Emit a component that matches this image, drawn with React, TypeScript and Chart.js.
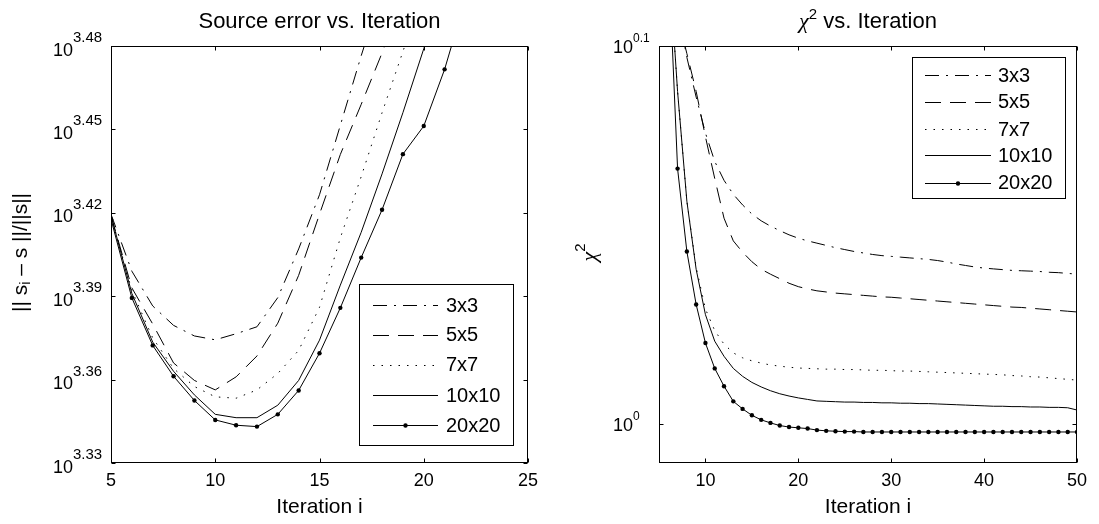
import React, { useEffect, useRef } from 'react';
import { Chart, registerables } from 'chart.js';

Chart.register(...registerables);

const SANS = "'Liberation Sans', Arial, Helvetica, sans-serif";
const SERIF = "'Liberation Serif', 'DejaVu Serif', serif";

const seriesLabels = ['3x3', '5x5', '7x7', '10x10', '20x20'];

// ---------- Left panel: source error vs. iteration (log y axis) ----------
const sourceIterations = [5, 6, 7, 8, 9, 10, 11, 12, 13, 14, 15, 16, 17, 18, 19, 20, 21, 22];
const source3x3 = [2627.2, 2506.1, 2435.0, 2396.1, 2375.2, 2367.6, 2379.6, 2393.3, 2451.9, 2552.7, 2669.9, 2828.1, 2995.7, 3162.3];
const source5x5 = [2624.2, 2471.7, 2398.8, 2322.7, 2289.3, 2271.4, 2296.1, 2336.1, 2400.5, 2497.5, 2627.2, 2760.6, 2877.4, 3002.6, 3140.5];
const source7x7 = [2624.2, 2466.1, 2371.4, 2312.1, 2277.7, 2258.4, 2255.8, 2271.4, 2302.5, 2346.9, 2432.2, 2576.3, 2710.2, 2857.6, 3006.1, 3162.3];
const source10x10 = [2624.2, 2460.4, 2363.2, 2306.7, 2262.0, 2225.9, 2219.7, 2219.7, 2242.8, 2289.3, 2367.0, 2477.4, 2588.2, 2716.4, 2857.6, 3013.0, 3176.9];
const source20x20 = [2616.4, 2451.3, 2356.7, 2297.2, 2251.6, 2215.6, 2205.9, 2203.4, 2225.9, 2270.4, 2341.5, 2431.1, 2534.5, 2636.9, 2761.2, 2826.2, 2962.1, 3140.5];
const sourceXTicks = [5, 10, 15, 20, 25];
const sourceYTickExps = ['3.33', '3.36', '3.39', '3.42', '3.45', '3.48'];

// ---------- Right panel: chi^2 vs. iteration (log y axis) ----------
const chiIterations = [5, 6, 7, 8, 9, 10, 11, 12, 13, 14, 15, 16, 17, 18, 19, 20, 21, 22, 23, 24, 25, 26, 27, 28, 29, 30, 31, 32, 33, 34, 35, 36, 37, 38, 39, 40, 41, 42, 43, 44, 45, 46, 47, 48, 49, 50];
const chi3x3 = [1.58489, 1.36458, 1.28825, 1.25026, 1.2204, 1.19399, 1.17355, 1.16011, 1.15027, 1.14288, 1.13658, 1.13188, 1.12824, 1.12513, 1.12228, 1.11996, 1.11815, 1.11661, 1.11507, 1.11353, 1.11225, 1.11097, 1.10995, 1.10893, 1.10816, 1.10765, 1.10714, 1.10663, 1.10612, 1.10561, 1.10484, 1.10383, 1.10256, 1.10154, 1.10053, 1.09977, 1.09926, 1.09876, 1.09825, 1.098, 1.09775, 1.0975, 1.09699, 1.09674, 1.09624, 1.09573];
const chi5x5 = [1.58489, 1.36458, 1.28233, 1.25314, 1.22462, 1.19124, 1.16145, 1.1337, 1.11815, 1.11045, 1.10408, 1.09901, 1.09572, 1.0927, 1.08968, 1.08743, 1.08593, 1.08468, 1.08393, 1.08318, 1.08268, 1.08218, 1.08168, 1.08119, 1.08069, 1.08044, 1.07994, 1.07945, 1.07895, 1.07846, 1.07796, 1.07746, 1.07697, 1.07647, 1.07598, 1.07548, 1.07499, 1.0745, 1.074, 1.07376, 1.07326, 1.07277, 1.07228, 1.07178, 1.07129, 1.0708];
const chi7x7 = [1.6596, 1.3335, 1.22462, 1.14551, 1.10027, 1.07275, 1.05877, 1.05003, 1.04448, 1.04136, 1.03944, 1.03801, 1.03681, 1.0361, 1.03538, 1.0349, 1.03467, 1.03443, 1.03419, 1.03419, 1.03395, 1.03395, 1.03371, 1.03348, 1.03348, 1.03324, 1.033, 1.033, 1.03276, 1.03253, 1.03229, 1.03205, 1.03181, 1.03158, 1.03134, 1.0311, 1.03087, 1.03063, 1.03016, 1.02992, 1.02945, 1.02922, 1.02874, 1.02827, 1.0278, 1.02732];
const chi10x10 = [1.6596, 1.3335, 1.22462, 1.14551, 1.09901, 1.06906, 1.05196, 1.04232, 1.03467, 1.02968, 1.02589, 1.02306, 1.0207, 1.01883, 1.01742, 1.01625, 1.01531, 1.01438, 1.01414, 1.01391, 1.01368, 1.01368, 1.01345, 1.01345, 1.01321, 1.01321, 1.01298, 1.01298, 1.01274, 1.01274, 1.01251, 1.01228, 1.01205, 1.01181, 1.01158, 1.01135, 1.01111, 1.01111, 1.01088, 1.01088, 1.01065, 1.01065, 1.01042, 1.01042, 1.01018, 1.00879];
const chi20x20 = [1.58489, 1.3335, 1.16843, 1.11097, 1.07572, 1.05075, 1.03467, 1.02353, 1.01414, 1.00949, 1.00554, 1.00277, 1.00092, 0.99931, 0.99839, 0.99793, 0.99747, 0.99655, 0.99609, 0.99586, 0.99563, 0.99563, 0.9954, 0.9954, 0.9954, 0.9954, 0.9954, 0.9954, 0.9954, 0.9954, 0.9954, 0.9954, 0.9954, 0.9954, 0.9954, 0.9954, 0.9954, 0.9954, 0.9954, 0.9954, 0.9954, 0.9954, 0.9954, 0.9954, 0.9954, 0.9954];
const chiXTicks = [10, 20, 30, 40, 50];
const chiYTickExps = ['0', '0.1'];
const chiYMinExp = -0.0102;

const lineStyles = [
  { dash: [14, 7, 2, 7], radius: 0 },
  { dash: [16, 9], radius: 0 },
  { dash: [1.5, 7], radius: 0 },
  { dash: [] as number[], radius: 0 },
  { dash: [] as number[], radius: 2.2 },
];

type Part = { t: string; size: number; dy?: number; family?: string; style?: string };

function fontOf(p: Part) {
  return `${p.style || 'normal'} ${p.size}px ${p.family || SANS}`;
}

function drawRich(ctx: CanvasRenderingContext2D, parts: Part[], x: number, y: number, align: 'left' | 'center' | 'right') {
  const widths = parts.map((p) => {
    ctx.font = fontOf(p);
    return ctx.measureText(p.t).width;
  });
  const total = widths.reduce((s, w) => s + w, 0);
  let cx = align === 'left' ? x : align === 'center' ? x - total / 2 : x - total;
  ctx.textAlign = 'left';
  parts.forEach((p, i) => {
    ctx.font = fontOf(p);
    ctx.fillText(p.t, cx, y + (p.dy || 0));
    cx += widths[i];
  });
}

function buildDatasets(xs: number[], ys: number[][]) {
  return ys.map((vals, i) => ({
    label: seriesLabels[i],
    data: vals.map((v, j) => ({ x: xs[j], y: v })),
    borderColor: '#000',
    backgroundColor: '#000',
    borderWidth: 1,
    borderDash: lineStyles[i].dash,
    pointRadius: lineStyles[i].radius,
    pointHoverRadius: 0,
    pointBorderWidth: 0,
    pointBackgroundColor: '#000',
    tension: 0,
    fill: false,
  }));
}

interface DecorCfg {
  xTicks: number[];
  yExps: string[];
  supSize: number;
  supDy: number;
  yTickX: number;
  yTickDy: number;
  title: Part[];
  yLabel: Part[];
  yLabelX: number;
  legend: { left: number; top: number; right: number; bottom: number; rows: number[]; x0: number; x1: number; textX: number; size: number };
}

const TICK_SIZE = 18;
const LABEL_SIZE = 21;
const TITLE_SIZE = 22;

function makeDecor(cfg: DecorCfg) {
  return {
    id: 'decor',
    afterDraw(chart: any) {
      const { ctx, chartArea: a } = chart;
      const xs = chart.scales.x;
      const ys = chart.scales.y;
      ctx.save();
      ctx.setLineDash([]);
      ctx.strokeStyle = '#000';
      ctx.fillStyle = '#000';
      ctx.lineWidth = 1;
      const L = Math.round(a.left) + 0.5;
      const R = Math.round(a.right) - 0.5;
      const T = Math.round(a.top) + 0.5;
      const B = Math.round(a.bottom) - 0.5;
      ctx.strokeRect(L, T, R - L, B - T);
      const tl = 4;
      ctx.beginPath();
      cfg.xTicks.forEach((v) => {
        const px = Math.round(xs.getPixelForValue(v)) + 0.5;
        ctx.moveTo(px, B);
        ctx.lineTo(px, B - tl);
        ctx.moveTo(px, T);
        ctx.lineTo(px, T + tl);
      });
      cfg.yExps.forEach((e) => {
        const py = Math.round(ys.getPixelForValue(Math.pow(10, parseFloat(e)))) + 0.5;
        ctx.moveTo(L, py);
        ctx.lineTo(L + tl, py);
        ctx.moveTo(R, py);
        ctx.lineTo(R - tl, py);
      });
      ctx.stroke();

      // x tick labels
      ctx.textBaseline = 'alphabetic';
      ctx.textAlign = 'center';
      ctx.font = `${TICK_SIZE}px ${SANS}`;
      cfg.xTicks.forEach((v) => ctx.fillText(String(v), xs.getPixelForValue(v), 485.5));

      // y tick labels (10^exp)
      cfg.yExps.forEach((e) => {
        const py = ys.getPixelForValue(Math.pow(10, parseFloat(e)));
        drawRich(ctx, [{ t: '10', size: TICK_SIZE }, { t: e, size: cfg.supSize, dy: cfg.supDy }], cfg.yTickX, py + cfg.yTickDy, 'left');
      });

      const cx = (a.left + a.right) / 2;
      // title
      drawRich(ctx, cfg.title, cx, 28, 'center');
      // x label
      drawRich(ctx, [{ t: 'Iteration i', size: LABEL_SIZE }], cx, 513, 'center');
      // y label (rotated)
      ctx.save();
      ctx.translate(cfg.yLabelX, (a.top + a.bottom) / 2 - 2);
      ctx.rotate(-Math.PI / 2);
      ctx.textBaseline = 'middle';
      drawRich(ctx, cfg.yLabel, 0, 0, 'center');
      ctx.restore();

      // legend
      const lg = cfg.legend;
      ctx.fillStyle = '#fff';
      ctx.fillRect(lg.left, lg.top, lg.right - lg.left, lg.bottom - lg.top);
      ctx.strokeStyle = '#000';
      ctx.lineWidth = 1;
      ctx.setLineDash([]);
      ctx.strokeRect(lg.left + 0.5, lg.top + 0.5, lg.right - lg.left, lg.bottom - lg.top);
      ctx.fillStyle = '#000';
      chart.data.datasets.forEach((ds: any, i: number) => {
        const y = Math.round(lg.rows[i]) + 0.5;
        ctx.setLineDash(ds.borderDash || []);
        ctx.beginPath();
        ctx.moveTo(lg.x0, y);
        ctx.lineTo(lg.x1, y);
        ctx.stroke();
        ctx.setLineDash([]);
        if (ds.pointRadius > 0) {
          ctx.beginPath();
          ctx.arc((lg.x0 + lg.x1) / 2, y, ds.pointRadius, 0, Math.PI * 2);
          ctx.fill();
        }
        ctx.textBaseline = 'middle';
        ctx.textAlign = 'left';
        ctx.font = `${lg.size}px ${SANS}`;
        ctx.fillText(ds.label, lg.textX, lg.rows[i] + 1);
      });
      ctx.restore();
    },
  };
}

function makeConfig(datasets: any[], xMin: number, xMax: number, yMin: number, yMax: number, padding: any, decor: any) {
  return {
    type: 'line' as const,
    data: { datasets },
    options: {
      responsive: false,
      animation: false as const,
      devicePixelRatio: 1,
      events: [] as any[],
      layout: { padding },
      plugins: { legend: { display: false }, title: { display: false }, tooltip: { enabled: false } },
      scales: {
        x: { type: 'linear' as const, display: false, min: xMin, max: xMax, bounds: 'data' as const },
        y: { type: 'logarithmic' as const, display: false, min: yMin, max: yMax, bounds: 'data' as const },
      },
    },
    plugins: [decor],
  };
}

export default function App() {
  const leftRef = useRef<HTMLCanvasElement>(null);
  const rightRef = useRef<HTMLCanvasElement>(null);

  useEffect(() => {
    const leftDecor = makeDecor({
      xTicks: sourceXTicks,
      yExps: sourceYTickExps,
      supSize: 15,
      supDy: -13.5,
      yTickX: 53,
      yTickDy: 9.5,
      title: [{ t: 'Source error vs. Iteration', size: TITLE_SIZE }],
      yLabel: [
        { t: '|| s', size: LABEL_SIZE },
        { t: 'i', size: 14, dy: 5 },
        { t: ' \u2013 s ||/||s||', size: LABEL_SIZE },
      ],
      yLabelX: 21,
      legend: { left: 359, top: 284, right: 513, bottom: 445, rows: [305.3, 334.8, 364.9, 395.1, 425.2], x0: 373, x1: 438, textX: 446, size: 20 },
    });
    const rightDecor = makeDecor({
      xTicks: chiXTicks,
      yExps: chiYTickExps,
      supSize: 12,
      supDy: -11,
      yTickX: 63,
      yTickDy: 7,
      title: [
        { t: '\u03c7', size: TITLE_SIZE, family: SERIF, style: 'italic' },
        { t: '2', size: 15, dy: -9 },
        { t: ' vs. Iteration', size: TITLE_SIZE },
      ],
      yLabel: [
        { t: '\u03c7', size: 22, family: SERIF, style: 'italic' },
        { t: '2', size: 15, dy: -9 },
      ],
      yLabelX: 40,
      legend: { left: 362, top: 57, right: 515, bottom: 198, rows: [75, 101.7, 129, 155, 182.7], x0: 375, x1: 441, textX: 448, size: 20 },
    });

    const left = new Chart(
      leftRef.current as HTMLCanvasElement,
      makeConfig(
        buildDatasets(sourceIterations, [source3x3, source5x5, source7x7, source10x10, source20x20]),
        5, 25, Math.pow(10, 3.33), Math.pow(10, 3.48),
        { left: 111, top: 46, right: 22, bottom: 61 },
        leftDecor,
      ) as any,
    );
    const right = new Chart(
      rightRef.current as HTMLCanvasElement,
      makeConfig(
        buildDatasets(chiIterations, [chi3x3, chi5x5, chi7x7, chi10x10, chi20x20]),
        5, 50, Math.pow(10, chiYMinExp), Math.pow(10, 0.1),
        { left: 109, top: 46, right: 22, bottom: 61 },
        rightDecor,
      ) as any,
    );
    return () => {
      left.destroy();
      right.destroy();
    };
  }, []);

  return (
    <div style={{ position: 'absolute', left: 0, top: 0, width: 1099, height: 524, background: '#fff' }}>
      <canvas ref={leftRef} width={550} height={524} style={{ position: 'absolute', left: 0, top: 0, width: 550, height: 524 }} />
      <canvas ref={rightRef} width={549} height={524} style={{ position: 'absolute', left: 550, top: 0, width: 549, height: 524 }} />
    </div>
  );
}
